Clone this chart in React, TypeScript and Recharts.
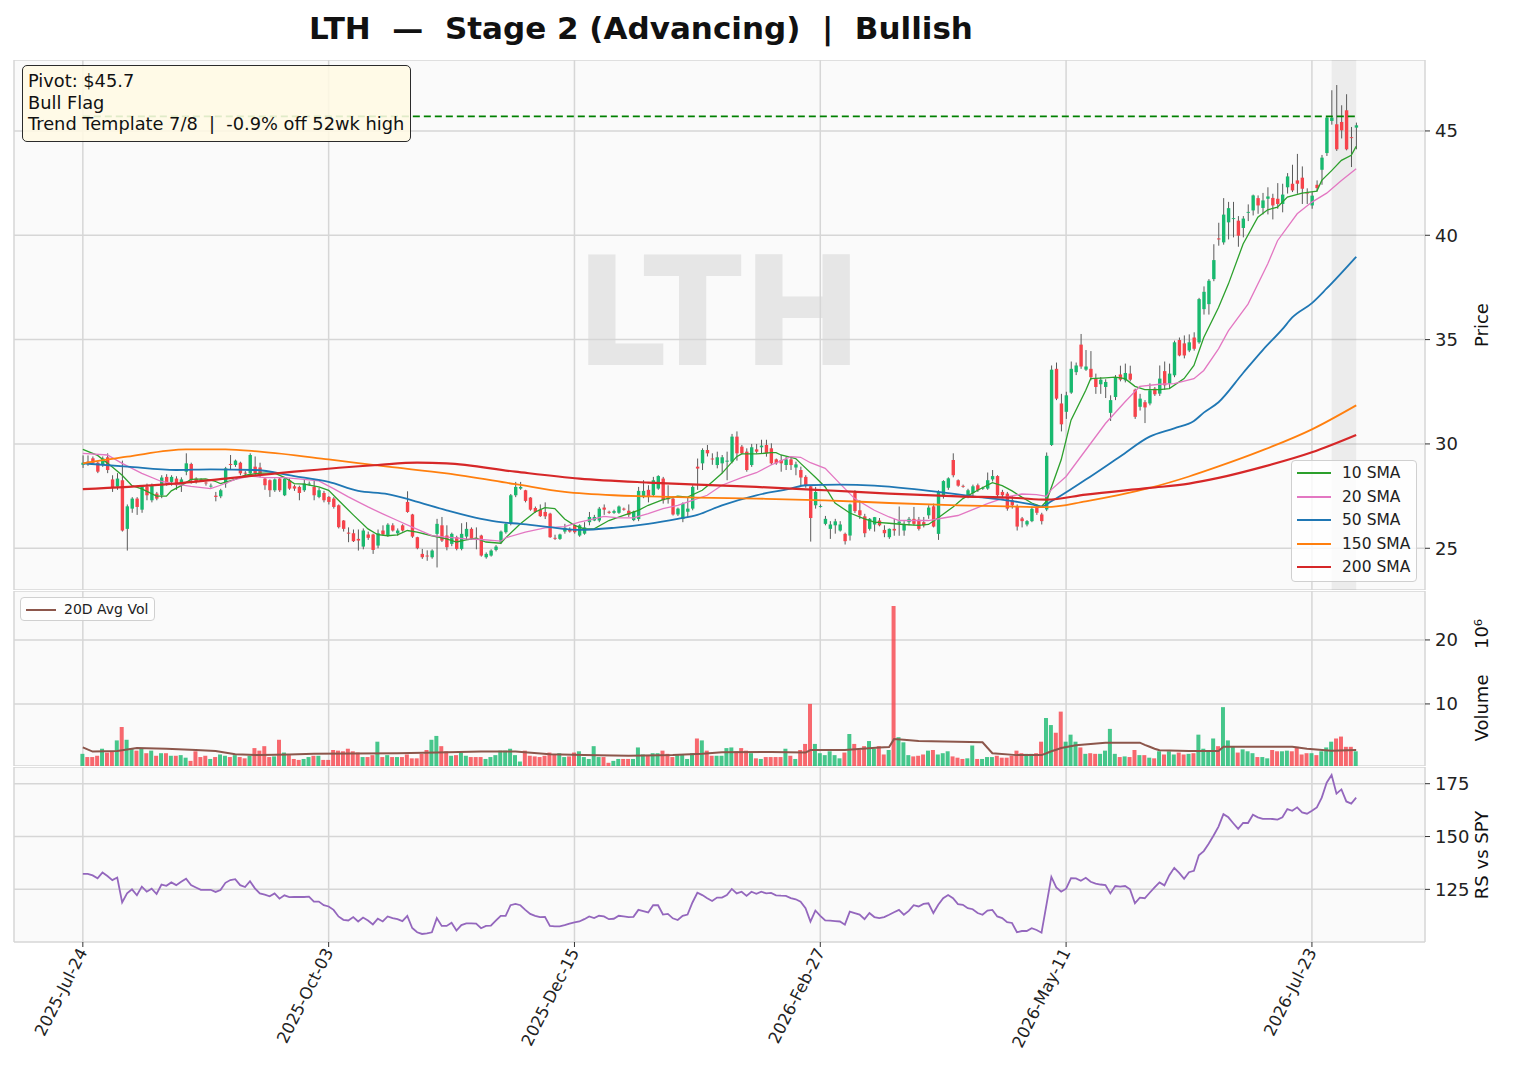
import React from "react";
import {
  ComposedChart,
  Bar,
  Line,
  XAxis,
  YAxis,
  CartesianGrid,
  ReferenceLine,
  ReferenceArea,
  Cell,
} from "recharts";

// ---- layout ----
const W = 1516;
const MARGIN = { top: 0, right: 31, bottom: 0, left: 14 };
const X_DOMAIN: [number, number] = [-14, 273];
const UP = "#19b96f";
const DOWN = "#f6434b";
const GRID = "#d6d6d6";

// ---- x axis ----
const tickIdx = [0, 50, 100, 150, 200, 250];
const tickDates = ["2025-Jul-24", "2025-Oct-03", "2025-Dec-15", "2026-Feb-27", "2026-May-11", "2026-Jul-23"];

// ---- daily candles [open, high, low, close] ----
const candles: [number, number, number, number][] = [
  [29.0, 29.45, 28.85, 29.1], [29.15, 29.45, 28.95, 29.1], [29.31, 29.4, 29.0, 29.1], [29.1, 29.15, 28.6, 28.67], [28.99, 29.4, 28.9, 29.31],
  [29.36, 29.55, 28.6, 28.75], [28.3, 28.5, 27.7, 27.9], [27.95, 28.6, 27.8, 28.34], [28.26, 29.2, 25.8, 25.85], [25.93, 27.1, 24.89, 27.01],
  [26.9, 27.45, 26.7, 27.38], [27.38, 27.45, 26.6, 26.98], [26.85, 28.0, 26.7, 27.94], [27.94, 28.1, 27.3, 27.54], [27.3, 28.1, 27.2, 28.02],
  [27.62, 27.7, 27.3, 27.38], [27.54, 28.5, 27.4, 28.39], [28.42, 28.55, 28.0, 28.1], [28.18, 28.5, 28.0, 28.42], [28.34, 28.45, 27.8, 28.02],
  [28.1, 28.4, 27.7, 28.3], [28.67, 29.55, 28.5, 29.07], [29.04, 29.1, 28.1, 28.26], [28.34, 28.4, 28.1, 28.18], [28.3, 28.35, 28.2, 28.28],
  [28.15, 28.2, 28.0, 28.12], [27.98, 28.1, 27.9, 28.0], [27.52, 27.7, 27.25, 27.46], [27.49, 27.85, 27.4, 27.78], [28.1, 28.9, 27.9, 28.83],
  [29.04, 29.47, 28.75, 28.99], [28.99, 29.25, 28.9, 29.2], [29.1, 29.15, 28.5, 28.59], [28.62, 28.7, 28.5, 28.59], [28.59, 29.55, 28.55, 29.47],
  [28.91, 29.4, 28.5, 28.59], [28.87, 29.1, 28.4, 28.5], [28.34, 28.4, 27.8, 28.02], [28.26, 28.3, 27.46, 27.78], [27.78, 28.35, 27.7, 28.3],
  [28.34, 28.4, 27.7, 27.78], [27.54, 28.4, 27.5, 28.34], [28.26, 28.35, 27.8, 27.86], [27.97, 28.05, 27.75, 27.86], [27.94, 28.0, 27.3, 27.65],
  [27.78, 28.3, 27.7, 28.1], [28.08, 28.2, 28.0, 28.1], [27.94, 28.26, 27.3, 27.54], [27.46, 27.9, 27.4, 27.78], [27.65, 27.75, 27.2, 27.3],
  [27.46, 27.5, 27.1, 27.22], [27.38, 27.45, 26.9, 26.98], [27.06, 27.1, 25.95, 26.01], [26.33, 26.35, 25.8, 25.93], [25.75, 26.0, 25.29, 25.7],
  [25.72, 25.9, 25.3, 25.34], [25.45, 25.9, 24.89, 25.37], [25.08, 25.95, 24.95, 25.85], [25.66, 25.8, 25.4, 25.5], [25.66, 25.7, 24.73, 24.92],
  [25.13, 25.9, 25.0, 25.72], [25.85, 26.1, 25.6, 25.66], [25.61, 26.2, 25.55, 26.13], [26.1, 26.2, 25.8, 25.85], [25.72, 25.95, 25.6, 25.85],
  [26.1, 26.15, 25.8, 25.85], [27.22, 27.73, 26.7, 26.74], [26.62, 26.65, 25.5, 25.56], [25.53, 25.55, 24.95, 25.0], [24.73, 24.97, 24.49, 24.57],
  [24.65, 24.9, 24.4, 24.62], [24.57, 24.95, 24.5, 24.89], [25.69, 26.41, 24.08, 26.17], [26.1, 26.5, 25.3, 25.37], [25.61, 26.1, 24.9, 25.05],
  [25.21, 25.75, 25.1, 25.69], [25.53, 25.6, 24.9, 24.97], [24.97, 26.2, 24.9, 25.69], [25.56, 26.25, 25.4, 25.93], [25.93, 26.0, 25.4, 25.45],
  [25.5, 26.0, 24.95, 25.48], [25.61, 25.65, 24.6, 24.65], [24.57, 24.8, 24.5, 24.73], [24.65, 24.95, 24.6, 24.89], [24.92, 25.15, 24.85, 25.08],
  [25.29, 25.85, 25.2, 25.8], [25.77, 26.2, 25.7, 26.17], [26.17, 27.6, 26.1, 27.54], [27.54, 28.18, 27.45, 27.94], [27.86, 28.18, 27.8, 27.94],
  [27.78, 27.8, 27.2, 27.27], [27.43, 27.45, 26.8, 26.85], [26.93, 27.0, 26.7, 26.74], [26.85, 27.1, 26.5, 26.54], [26.74, 27.2, 26.4, 26.53],
  [26.66, 26.7, 25.5, 25.53], [25.5, 25.65, 25.4, 25.48], [25.45, 25.7, 25.4, 25.66], [25.8, 26.17, 25.7, 25.98], [25.92, 26.0, 25.75, 25.8],
  [26.1, 26.15, 25.7, 25.77], [25.61, 26.15, 25.55, 26.1], [25.7, 26.25, 25.65, 26.0], [26.25, 26.74, 26.1, 26.5], [26.33, 26.6, 26.3, 26.5],
  [26.33, 26.98, 26.25, 26.9], [26.95, 27.1, 26.6, 26.85], [26.75, 26.8, 26.65, 26.7], [26.7, 26.85, 26.65, 26.78], [26.7, 27.05, 26.65, 27.0],
  [26.9, 26.95, 26.8, 26.85], [26.8, 27.1, 26.5, 26.6], [26.35, 26.8, 26.3, 26.75], [26.4, 27.94, 26.3, 27.75], [27.45, 28.26, 27.4, 27.75],
  [27.8, 28.02, 27.2, 27.45], [27.55, 28.42, 27.5, 28.26], [27.86, 28.5, 27.8, 28.46], [28.34, 28.42, 27.14, 27.3], [27.43, 28.02, 27.14, 27.35],
  [27.38, 27.5, 26.57, 26.62], [26.62, 26.95, 26.55, 26.9], [26.4, 27.2, 26.25, 27.14], [26.75, 27.43, 26.5, 26.9], [26.9, 28.02, 26.82, 27.94],
  [28.91, 29.3, 27.8, 28.82], [29.07, 29.79, 28.75, 29.71], [29.71, 29.95, 29.4, 29.55], [29.3, 29.55, 29.0, 29.28], [28.99, 29.63, 28.83, 29.36],
  [29.07, 29.47, 28.59, 29.36], [29.15, 29.63, 28.26, 29.2], [29.15, 30.48, 29.07, 30.35], [30.35, 30.6, 29.2, 29.55], [29.87, 29.95, 29.5, 29.55],
  [29.63, 29.79, 28.67, 28.75], [28.99, 30.0, 28.9, 29.84], [29.74, 30.0, 29.55, 29.63], [29.84, 30.2, 29.55, 29.92], [29.95, 30.2, 29.39, 29.55],
  [29.79, 30.03, 28.99, 29.07], [29.26, 29.3, 29.0, 29.07], [29.23, 29.47, 28.67, 29.07], [28.99, 29.39, 28.75, 29.26], [29.26, 29.39, 28.75, 28.99],
  [28.87, 29.15, 28.5, 29.02], [28.75, 28.91, 27.97, 28.39], [28.42, 28.5, 27.9, 28.0], [27.97, 28.02, 25.32, 26.45], [27.06, 27.94, 26.9, 27.7],
  [27.0, 27.1, 26.95, 27.02], [26.17, 26.55, 26.1, 26.41], [25.93, 26.3, 25.45, 26.14], [26.1, 26.41, 25.7, 26.29], [25.85, 26.3, 25.8, 26.14],
  [25.69, 25.75, 25.18, 25.34], [25.61, 27.14, 25.37, 27.1], [27.65, 27.78, 26.69, 26.78], [26.82, 27.3, 26.4, 26.58], [26.53, 26.65, 25.53, 25.72],
  [25.93, 26.45, 25.85, 26.41], [26.14, 26.5, 25.8, 26.49], [26.33, 26.45, 26.05, 26.1], [25.88, 26.1, 25.53, 25.72], [25.53, 25.95, 25.45, 25.93],
  [25.93, 26.41, 25.6, 25.85], [26.2, 27.0, 25.6, 26.28], [25.85, 26.3, 25.6, 26.17], [26.25, 26.5, 26.1, 26.41], [26.41, 26.98, 26.1, 26.17],
  [26.37, 26.5, 25.85, 25.93], [26.25, 26.5, 26.0, 26.1], [26.58, 27.06, 26.41, 26.95], [27.01, 27.14, 26.0, 26.04], [25.69, 27.78, 25.4, 27.7],
  [27.49, 28.26, 27.38, 28.22], [27.9, 28.4, 27.8, 28.35], [29.23, 29.55, 28.4, 28.5], [28.26, 28.3, 27.95, 28.0], [27.99, 28.05, 27.9, 27.97],
  [27.49, 27.85, 27.4, 27.78], [27.65, 28.05, 27.5, 27.97], [28.02, 28.1, 27.7, 27.78], [27.85, 27.95, 27.8, 27.9], [27.86, 28.63, 27.8, 28.26],
  [28.3, 28.75, 28.2, 28.46], [28.46, 28.5, 27.45, 27.54], [27.7, 27.8, 27.4, 27.54], [27.62, 27.7, 26.8, 26.9], [27.3, 27.5, 26.9, 27.06],
  [26.98, 27.1, 25.85, 26.04], [26.43, 26.5, 26.0, 26.3], [26.14, 26.35, 26.05, 26.3], [26.3, 27.0, 26.25, 26.89], [26.97, 27.1, 26.6, 26.7],
  [26.62, 26.7, 26.14, 26.3], [26.86, 29.59, 26.78, 29.43], [29.95, 33.76, 29.9, 33.56], [33.6, 33.9, 32.1, 32.17], [31.94, 32.4, 30.6, 30.94],
  [31.54, 32.5, 31.2, 32.33], [32.46, 33.95, 32.4, 33.6], [33.44, 33.9, 33.3, 33.76], [34.76, 35.27, 33.6, 33.71], [33.56, 34.5, 33.5, 33.71],
  [33.6, 34.45, 33.05, 33.2], [33.13, 33.37, 32.4, 32.73], [32.86, 33.2, 32.4, 33.08], [32.73, 33.1, 32.2, 32.97], [31.49, 32.33, 31.1, 32.1],
  [32.25, 33.3, 32.1, 33.2], [33.33, 33.75, 33.0, 33.08], [33.05, 33.85, 32.95, 33.4], [33.37, 33.75, 33.0, 33.08], [32.6, 32.65, 31.2, 31.3],
  [31.78, 32.4, 31.6, 32.17], [32.0, 32.1, 31.0, 31.75], [31.94, 32.9, 31.85, 32.57], [32.65, 32.73, 32.3, 32.38], [32.41, 33.76, 32.3, 33.13],
  [33.49, 33.95, 32.6, 32.81], [32.89, 33.85, 32.65, 33.37], [33.29, 34.95, 33.2, 34.87], [34.98, 35.1, 34.2, 34.24], [34.82, 35.2, 34.1, 34.24],
  [34.48, 35.25, 34.4, 34.87], [35.1, 35.35, 34.47, 34.56], [34.87, 37.0, 34.8, 36.94], [36.46, 37.55, 36.2, 37.29], [36.7, 37.9, 36.2, 37.82],
  [37.9, 39.57, 37.8, 38.81], [39.85, 40.6, 39.5, 39.8], [39.66, 41.78, 39.55, 40.99], [40.62, 41.6, 39.8, 41.3], [40.78, 41.6, 39.9, 40.82],
  [40.7, 40.92, 39.45, 39.98], [40.35, 40.92, 39.9, 40.8], [41.08, 41.48, 40.68, 41.12], [41.19, 41.95, 40.95, 41.91], [41.78, 41.91, 41.03, 41.43],
  [41.31, 42.03, 41.0, 41.67], [41.75, 42.3, 41.0, 41.86], [41.79, 41.99, 40.76, 41.43], [41.75, 42.5, 41.27, 41.5], [41.5, 42.47, 41.1, 41.95],
  [42.3, 42.98, 42.0, 42.82], [42.47, 43.38, 42.07, 42.15], [42.63, 43.9, 41.99, 42.47], [42.76, 43.3, 41.5, 42.23], [42.05, 42.25, 41.5, 42.0],
  [41.43, 42.07, 41.27, 41.9], [42.42, 42.63, 42.1, 42.26], [43.14, 43.85, 42.42, 43.72], [43.94, 45.7, 43.8, 45.64], [45.48, 46.95, 45.3, 45.64],
  [45.32, 47.2, 44.04, 44.12], [45.43, 46.23, 44.64, 45.03], [45.99, 46.76, 44.07, 44.12], [44.7, 45.19, 43.27, 44.68], [45.16, 45.4, 44.12, 45.27],
];

// ---- volume (millions) ----
const volumes = [
  2.2, 1.7, 1.7, 1.9, 3.0, 2.4, 2.6, 4.3, 6.4, 4.4,
  3.0, 2.7, 3.0, 2.3, 2.7, 1.9, 2.3, 2.3, 1.9, 1.9,
  2.0, 1.6, 1.1, 2.6, 1.7, 1.9, 1.4, 1.7, 2.1, 1.9,
  1.7, 2.0, 1.7, 1.5, 1.9, 3.1, 2.7, 3.4, 1.7, 1.8,
  4.4, 2.4, 2.0, 1.4, 1.25, 1.4, 1.7, 1.9, 1.9, 1.25,
  1.25, 2.8, 2.7, 2.6, 3.0, 2.6, 2.4, 1.7, 1.7, 2.0,
  4.1, 1.7, 2.0, 1.7, 1.7, 1.7, 2.1, 1.5, 1.5, 2.2,
  2.8, 4.4, 5.0, 3.4, 2.6, 1.9, 2.0, 2.4, 1.9, 1.7,
  1.7, 1.7, 1.4, 1.7, 2.0, 2.7, 2.7, 3.0, 2.0, 1.0,
  2.7, 1.9, 1.8, 1.7, 1.9, 2.4, 2.1, 2.3, 1.7, 1.8,
  2.4, 2.6, 1.7, 1.4, 3.4, 1.7, 1.7, 0.8, 1.1, 1.4,
  1.4, 1.4, 1.4, 3.2, 2.1, 1.9, 2.3, 2.3, 2.7, 2.2,
  1.7, 2.0, 2.1, 1.4, 2.3, 4.6, 4.3, 2.7, 1.9, 1.9,
  1.9, 3.1, 3.2, 2.6, 3.1, 2.7, 2.3, 1.5, 1.4, 1.7,
  1.7, 1.7, 1.7, 3.0, 1.9, 1.4, 2.8, 3.75, 10.0, 3.75,
  2.3, 2.0, 2.6, 2.0, 1.5, 2.4, 5.3, 3.75, 2.8, 3.4,
  4.2, 3.0, 3.4, 2.1, 2.8, 25.3, 4.8, 4.0, 2.0, 1.8,
  1.9, 2.1, 2.7, 2.8, 2.1, 2.3, 2.6, 1.8, 1.6, 1.4,
  1.5, 3.5, 1.4, 1.4, 1.7, 1.7, 1.9, 1.6, 1.6, 1.9,
  2.7, 2.3, 2.2, 2.2, 2.3, 4.1, 7.8, 6.7, 5.5, 8.8,
  4.1, 5.2, 4.1, 3.2, 2.2, 2.3, 2.2, 2.2, 2.7, 6.1,
  2.2, 1.7, 1.8, 1.7, 2.8, 2.0, 2.0, 1.6, 1.5, 2.6,
  2.1, 2.6, 2.1, 2.4, 2.1, 2.2, 2.3, 5.2, 3.0, 2.6,
  4.6, 3.4, 9.5, 4.3, 3.3, 2.4, 2.9, 2.6, 2.3, 1.7,
  1.7, 1.5, 2.8, 2.6, 2.6, 2.7, 2.6, 3.3, 2.1, 2.3,
  2.3, 2.0, 2.6, 3.2, 4.1, 4.6, 4.9, 3.3, 3.3, 2.6,
];

// 20-day average volume, read at [bar index, value]
const avgVol: [number, number][] = [
  [0, 3.2], [2, 2.55], [7, 2.65], [11, 3.1], [17, 3.0], [23, 2.8], [27, 2.65], [31, 2.15], [36, 2.0], [42, 2.1],
  [47, 2.2], [55, 2.25], [64, 2.3], [72, 2.4], [81, 2.55], [88, 2.55], [95, 2.15], [102, 2.0], [111, 1.9], [120, 2.0],
  [126, 2.2], [130, 2.45], [140, 2.5], [147, 2.4], [148, 2.8], [155, 2.8], [162, 3.2], [164, 3.25], [165, 4.5], [167, 4.4],
  [170, 4.2], [183, 4.0], [185, 2.3], [190, 2.0], [195, 2.0], [196, 2.3], [197, 2.6], [198, 2.85], [199, 3.1], [202, 3.55],
  [208, 3.95], [215, 3.95], [216, 3.6], [217, 3.3], [218, 3.0], [219, 2.75], [225, 2.65], [231, 2.65], [232, 3.3], [246, 3.3],
  [249, 3.0], [254, 2.7], [259, 2.8],
];

// ---- relative strength vs SPY ----
const rsLine = [
  132.3, 132.3, 131.6, 130.2, 133.0, 131.3, 129.4, 130.6, 118.8, 123.1,
  125.0, 122.2, 126.3, 123.9, 125.3, 122.8, 127.3, 126.7, 128.3, 127.0,
  128.6, 130.0, 127.0, 125.9, 124.8, 124.8, 124.8, 123.8, 124.7, 128.1,
  129.4, 129.8, 127.0, 126.1, 128.9, 125.5, 123.1, 122.5, 121.7, 123.1,
  120.6, 122.2, 121.3, 121.4, 121.4, 121.4, 121.6, 119.2, 119.2, 117.5,
  116.9, 115.3, 112.2, 110.6, 110.3, 111.9, 109.8, 111.7, 110.3, 108.4,
  111.1, 109.8, 112.2, 111.4, 110.9, 110.0, 112.5, 106.7, 104.7, 103.9,
  104.2, 104.7, 111.4, 107.7, 107.7, 109.2, 105.5, 108.1, 108.9, 108.9,
  108.8, 106.6, 107.7, 107.8, 110.2, 112.5, 112.5, 117.5, 118.1, 117.5,
  115.3, 113.4, 112.5, 111.9, 112.0, 107.7, 107.5, 107.5, 108.1, 108.8,
  109.4, 109.8, 110.9, 112.2, 111.4, 112.5, 112.2, 110.9, 111.1, 112.5,
  112.2, 111.9, 112.0, 115.3, 114.7, 114.1, 117.5, 117.5, 113.1, 113.4,
  111.3, 110.5, 112.5, 113.1, 118.8, 123.4, 122.3, 120.8, 119.5, 121.1,
  121.1, 122.3, 125.2, 123.1, 123.9, 121.9, 123.9, 122.9, 123.9, 123.1,
  123.3, 122.2, 122.0, 121.9, 120.9, 120.3, 119.2, 116.1, 109.8, 115.0,
  112.5, 110.3, 110.2, 110.0, 109.8, 108.3, 114.5, 113.8, 113.1, 110.9,
  113.8, 111.9, 111.4, 111.9, 113.0, 114.2, 115.3, 113.0, 114.8, 117.5,
  116.9, 118.1, 118.4, 113.8, 117.7, 120.8, 122.3, 120.8, 118.0, 117.7,
  116.1, 115.6, 113.8, 113.0, 115.0, 115.3, 112.2, 111.4, 109.5, 109.1,
  104.7, 105.3, 105.3, 106.6, 105.8, 104.5, 117.7, 130.9, 125.9, 123.9,
  125.3, 130.3, 130.2, 129.1, 130.5, 128.6, 127.7, 127.3, 127.0, 123.1,
  126.6, 126.3, 126.6, 125.0, 118.4, 121.1, 120.8, 123.4, 125.9, 128.3,
  126.9, 131.7, 135.2, 132.8, 130.0, 133.1, 133.8, 141.1, 143.1, 146.6,
  150.5, 154.7, 160.6, 159.1, 156.3, 153.6, 156.4, 156.4, 160.3, 159.1,
  158.4, 158.4, 158.3, 158.0, 159.1, 163.0, 162.2, 163.8, 161.4, 160.8,
  162.2, 163.8, 168.4, 175.5, 179.1, 170.3, 172.3, 166.6, 165.6, 168.4,
];

// ---- moving averages, read at [bar index, value] ----
const sma10: [number, number][] = [
  [0, 29.74], [3, 29.45], [6, 28.9], [8, 28.5], [10, 28.0], [12, 27.85], [15, 27.5], [17, 27.5], [18, 27.75], [20, 28.0],
  [22, 28.3], [25, 28.33], [27, 28.2], [28, 28.1], [31, 28.3], [33, 28.5], [36, 28.6], [39, 28.6], [41, 28.4], [43, 28.1],
  [45, 28.07], [48, 27.94], [50, 27.78], [52, 27.3], [55, 26.6], [58, 25.93], [60, 25.65], [62, 25.6], [64, 25.64], [66, 25.85],
  [68, 25.77], [71, 25.6], [74, 25.45], [76, 25.3], [78, 25.4], [80, 25.48], [82, 25.3], [85, 25.24], [86, 25.5], [89, 26.17],
  [92, 26.74], [94, 26.95], [96, 26.9], [98, 26.4], [100, 26.1], [102, 25.93], [104, 25.93], [107, 26.33], [110, 26.58], [113, 26.82],
  [115, 27.06], [118, 27.33], [121, 27.5], [123, 27.45], [126, 27.78], [128, 28.18], [130, 28.59], [133, 29.39], [134, 29.52], [137, 29.52],
  [140, 29.58], [141, 29.58], [142, 29.47], [145, 29.3], [146, 29.07], [149, 28.4], [151, 27.94], [153, 27.17], [156, 26.69], [159, 26.41],
  [161, 26.25], [164, 26.2], [167, 26.14], [170, 26.1], [172, 26.14], [174, 26.46], [177, 26.98], [179, 27.38], [182, 27.78], [185, 28.14],
  [187, 28.0], [189, 27.75], [191, 27.45], [193, 27.17], [195, 27.0], [196, 27.25], [199, 29.24], [201, 31.14], [204, 32.57], [205, 33.13],
  [208, 33.17], [210, 33.2], [212, 33.13], [214, 32.76], [216, 32.6], [219, 32.6], [221, 32.65], [224, 33.13], [226, 33.76], [228, 35.1],
  [231, 36.54], [233, 37.66], [236, 39.58], [239, 40.87], [241, 41.22], [243, 41.35], [245, 41.83], [248, 42.02], [251, 42.12], [252, 42.63],
  [254, 43.1], [256, 43.59], [258, 43.83], [259, 44.26],
];
const sma20: [number, number][] = [
  [0, 29.55], [5, 29.47], [8, 29.07], [12, 28.59], [16, 28.2], [19, 28.07], [22, 27.97], [26, 27.86], [28, 28.02], [31, 28.3],
  [34, 28.46], [37, 28.39], [41, 28.39], [45, 28.3], [48, 28.23], [51, 27.86], [54, 27.46], [58, 26.98], [61, 26.65], [64, 26.33],
  [67, 26.01], [71, 25.61], [74, 25.53], [78, 25.45], [81, 25.42], [85, 25.34], [86, 25.5], [90, 25.77], [94, 25.98], [98, 26.04],
  [101, 26.25], [104, 26.41], [106, 26.53], [109, 26.46], [112, 26.46], [115, 26.66], [118, 26.9], [121, 27.06], [124, 27.3], [127, 27.54],
  [130, 28.02], [134, 28.39], [137, 28.62], [140, 28.99], [144, 29.39], [146, 29.36], [148, 29.1], [151, 28.83], [154, 28.1], [157, 27.38],
  [161, 26.82], [164, 26.5], [166, 26.33], [170, 26.33], [172, 26.33], [175, 26.45], [178, 26.57], [181, 26.85], [184, 27.14], [188, 27.46],
  [191, 27.6], [194, 27.57], [196, 27.49], [197, 27.81], [200, 28.44], [204, 29.71], [208, 30.98], [212, 32.02], [215, 32.76], [219, 32.86],
  [222, 32.89], [226, 33.13], [228, 33.52], [231, 34.56], [233, 35.42], [237, 36.7], [241, 38.62], [243, 39.74], [247, 41.03], [250, 41.59],
  [253, 42.02], [256, 42.63], [259, 43.19],
];
const sma50: [number, number][] = [
  [0, 29.07], [9, 28.91], [19, 28.75], [26, 28.78], [35, 28.75], [43, 28.46], [50, 28.18], [56, 27.75], [62, 27.6], [67, 27.3],
  [74, 26.82], [81, 26.41], [85, 26.25], [89, 26.17], [94, 26.04], [101, 25.88], [108, 25.98], [115, 26.17], [121, 26.41], [125, 26.6],
  [130, 27.06], [137, 27.54], [144, 27.86], [147, 28.02], [154, 28.05], [161, 28.0], [168, 27.86], [174, 27.7], [181, 27.49], [188, 27.3],
  [193, 27.1], [195, 27.0], [197, 27.25], [204, 28.29], [211, 29.4], [217, 30.35], [222, 30.75], [226, 31.1], [228, 31.5], [231, 32.0],
  [236, 33.4], [240, 34.5], [244, 35.5], [246, 36.06], [250, 36.75], [253, 37.45], [259, 38.97],
];
const sma150: [number, number][] = [
  [0, 29.07], [9, 29.39], [21, 29.74], [29, 29.74], [36, 29.63], [50, 29.26], [62, 28.91], [74, 28.59], [88, 28.07], [98, 27.7],
  [108, 27.54], [115, 27.49], [125, 27.43], [137, 27.38], [151, 27.3], [164, 27.17], [178, 27.06], [190, 27.0], [196, 26.97], [204, 27.25],
  [217, 27.89], [225, 28.44], [231, 28.92], [240, 29.7], [250, 30.7], [259, 31.85],
];
const sma200: [number, number][] = [
  [0, 27.83], [16, 28.05], [29, 28.34], [43, 28.67], [60, 28.99], [68, 29.1], [74, 29.07], [88, 28.67], [101, 28.34], [115, 28.15],
  [125, 28.05], [137, 27.94], [151, 27.78], [164, 27.62], [178, 27.49], [190, 27.41], [196, 27.33], [204, 27.57], [217, 27.89], [225, 28.1],
  [231, 28.37], [240, 28.9], [250, 29.6], [259, 30.43],
];

const pivot = 45.7;
const flagStart = 254;
const flagEnd = 259;

const smaSeries = [
  { key: "s10", name: "10 SMA", color: "#2ca02c", width: 1.3, curve: "linear", pts: sma10 },
  { key: "s20", name: "20 SMA", color: "#e377c2", width: 1.3, curve: "linear", pts: sma20 },
  { key: "s50", name: "50 SMA", color: "#1f77b4", width: 1.8, curve: "monotone", pts: sma50 },
  { key: "s150", name: "150 SMA", color: "#ff7f0e", width: 1.8, curve: "monotone", pts: sma150 },
  { key: "s200", name: "200 SMA", color: "#d62728", width: 2.2, curve: "monotone", pts: sma200 },
];

const rows: any[] = candles.map(([o, h, l, c], i) => ({
  i, o, h, l, c, up: c >= o, v: volumes[i], rs: rsLine[i], av: null,
  s10: null, s20: null, s50: null, s150: null, s200: null,
}));
smaSeries.forEach((s) => s.pts.forEach(([i, v]) => { rows[i][s.key] = v; }));
avgVol.forEach(([i, v]) => { rows[i].av = v; });

const renderCandle = (p: any) => {
  const { x, y, width, height, payload } = p;
  if (x == null || y == null) return <g />;
  const top = Math.min(y, y + height);
  const span = Math.abs(height);
  const { o, h, l, c, up } = payload;
  const k = h - l > 0 ? span / (h - l) : 0;
  const bodyTop = top + (h - Math.max(o, c)) * k;
  const bodyH = Math.max(Math.abs(o - c) * k, 0.9);
  const cx = x + width / 2;
  return (
    <g>
      <line x1={cx} x2={cx} y1={top} y2={top + span} stroke="#5a5a5a" strokeWidth={1} />
      <rect x={x} y={bodyTop} width={width} height={bodyH} fill={up ? UP : DOWN} />
    </g>
  );
};

const DateTick = (p: any) => {
  const { x, y, payload } = p;
  const label = tickDates[tickIdx.indexOf(payload.value)];
  const ax = x + 5;
  const ay = y + 3;
  return (
    <text x={ax} y={ay} textAnchor="end" transform={`rotate(-63 ${ax} ${ay})`} fontSize={16.5} fill="#222">
      {label}
    </text>
  );
};

const yTick = { fontSize: 18, fill: "#222" };

const panelBg = (top: number, height: number) => (
  <div style={{ position: "absolute", left: 14, top, width: 1411, height, background: "#fafafa" }} />
);

export default function App() {
  return (
    <div
      style={{
        position: "absolute", left: 0, top: 0, width: W, height: 1072, background: "#fff",
        fontFamily: "'DejaVu Sans', sans-serif", overflow: "hidden",
      }}
    >
      {panelBg(60, 530)}
      {panelBg(591, 175)}
      {panelBg(767, 175)}

      <svg width={W} height={1072} style={{ position: "absolute", left: 0, top: 0 }}>
        <text x={719} y={365} fontSize={151} fontWeight="bold" fill="#e6e6e6" textAnchor="middle"
          textLength={288} lengthAdjust="spacingAndGlyphs">LTH</text>
      </svg>

      {/* price panel */}
      <div style={{ position: "absolute", left: 0, top: 60 }}>
        <ComposedChart width={W} height={530} data={rows} margin={MARGIN}>
          <CartesianGrid stroke={GRID} strokeWidth={1.5} />
          <XAxis type="number" dataKey="i" domain={X_DOMAIN} ticks={tickIdx} hide allowDataOverflow />
          <YAxis orientation="right" type="number" domain={[23, 48.4]} ticks={[25, 30, 35, 40, 45]}
            allowDataOverflow width={60} axisLine={false} tickLine={{ stroke: "#333" }} tickSize={5} tickMargin={5} tick={yTick} />
          <ReferenceArea x1={flagStart} x2={flagEnd} fill="#8a8a8a" fillOpacity={0.12} stroke="none" />
          <Bar dataKey={(d: any) => [d.l, d.h]} barSize={3.4} shape={renderCandle} isAnimationActive={false} />
          {smaSeries.map((s) => (
            <Line key={s.key} dataKey={s.key} type={s.curve as any} stroke={s.color} strokeWidth={s.width}
              dot={false} connectNulls isAnimationActive={false} />
          ))}
          <ReferenceLine segment={[{ x: 0, y: pivot }, { x: 259, y: pivot }]} stroke="#008000"
            strokeDasharray="7 4" strokeWidth={1.6} />
        </ComposedChart>
      </div>

      {/* volume panel */}
      <div style={{ position: "absolute", left: 0, top: 591 }}>
        <ComposedChart width={W} height={175} data={rows} margin={MARGIN}>
          <CartesianGrid stroke={GRID} strokeWidth={1.5} />
          <XAxis type="number" dataKey="i" domain={X_DOMAIN} ticks={tickIdx} hide allowDataOverflow />
          <YAxis orientation="right" type="number" domain={[0.3, 27.65]} ticks={[10, 20]}
            allowDataOverflow width={60} axisLine={false} tickLine={{ stroke: "#333" }} tickSize={5} tickMargin={5} tick={yTick} />
          <Bar dataKey="v" barSize={4} isAnimationActive={false}>
            {rows.map((r) => (
              <Cell key={r.i} fill={r.up ? UP : DOWN} fillOpacity={0.8} />
            ))}
          </Bar>
          <Line dataKey="av" type="linear" stroke="#8c564b" strokeWidth={2} dot={false} connectNulls isAnimationActive={false} />
        </ComposedChart>
      </div>

      {/* RS panel */}
      <div style={{ position: "absolute", left: 0, top: 767 }}>
        <ComposedChart width={W} height={300} data={rows} margin={MARGIN}>
          <CartesianGrid stroke={GRID} strokeWidth={1.5} />
          <XAxis type="number" dataKey="i" domain={X_DOMAIN} ticks={tickIdx} allowDataOverflow height={125}
            axisLine={false} tickLine={{ stroke: "#333" }} tickSize={5} tickMargin={2} tick={<DateTick />} />
          <YAxis orientation="right" type="number" domain={[100.1, 182.9]} ticks={[125, 150, 175]}
            allowDataOverflow width={60} axisLine={false} tickLine={{ stroke: "#333" }} tickSize={5} tickMargin={5} tick={yTick} />
          <Line dataKey="rs" type="linear" stroke="#9467bd" strokeWidth={1.8} dot={false} isAnimationActive={false} />
        </ComposedChart>
      </div>

      {/* titles and axis labels */}
      <svg width={W} height={1072} style={{ position: "absolute", left: 0, top: 0, pointerEvents: "none" }}>
        <text x={641} y={39} fontSize={31} fontWeight="bold" textAnchor="middle" fill="#111" style={{ whiteSpace: "pre" }}>
          {"LTH  —  Stage 2 (Advancing)  |  Bullish"}
        </text>
        <text x={1488} y={325} fontSize={18} textAnchor="middle" fill="#111" transform="rotate(-90 1488 325)">Price</text>
        <text x={1488} y={708} fontSize={18} textAnchor="middle" fill="#111" transform="rotate(-90 1488 708)">Volume</text>
        <text x={1488} y={634} fontSize={18} textAnchor="middle" fill="#111" transform="rotate(-90 1488 634)">10⁶</text>
        <text x={1488} y={855} fontSize={18} textAnchor="middle" fill="#111" transform="rotate(-90 1488 855)">RS vs SPY</text>
      </svg>

      {/* pattern annotation */}
      <div
        style={{
          position: "absolute", left: 22, top: 65, width: 389, height: 77, boxSizing: "border-box",
          border: "1.5px solid #2b2b2b", borderRadius: 5, background: "rgba(255,249,228,0.88)",
          padding: "4px 0 0 5px", fontSize: 17.8, lineHeight: "21.5px", color: "#111", whiteSpace: "pre",
        }}
      >
        {"Pivot: $45.7\nBull Flag\nTrend Template 7/8  |  -0.9% off 52wk high"}
      </div>

      {/* SMA legend */}
      <div
        style={{
          position: "absolute", left: 1291, top: 460, width: 126, height: 122, boxSizing: "border-box",
          border: "1px solid #d0d0d0", borderRadius: 4, background: "rgba(255,255,255,0.8)",
        }}
      >
        {smaSeries.map((s, k) => (
          <div key={s.key} style={{ position: "absolute", left: 0, top: 12 + k * 23.5 - 11, height: 22, width: 124 }}>
            <div style={{ position: "absolute", left: 5, top: 10, width: 34, height: 2, background: s.color }} />
            <div style={{ position: "absolute", left: 50, top: 0, fontSize: 15.5, lineHeight: "22px", color: "#222", whiteSpace: "pre" }}>
              {s.name}
            </div>
          </div>
        ))}
      </div>

      {/* volume legend */}
      <div
        style={{
          position: "absolute", left: 20, top: 597, width: 135, height: 24, boxSizing: "border-box",
          border: "1px solid #d0d0d0", borderRadius: 4, background: "rgba(255,255,255,0.8)",
        }}
      >
        <div style={{ position: "absolute", left: 5, top: 10.5, width: 30, height: 2, background: "#8c564b" }} />
        <div style={{ position: "absolute", left: 43, top: 0, fontSize: 14, lineHeight: "22px", color: "#222", whiteSpace: "pre" }}>
          20D Avg Vol
        </div>
      </div>
    </div>
  );
}
